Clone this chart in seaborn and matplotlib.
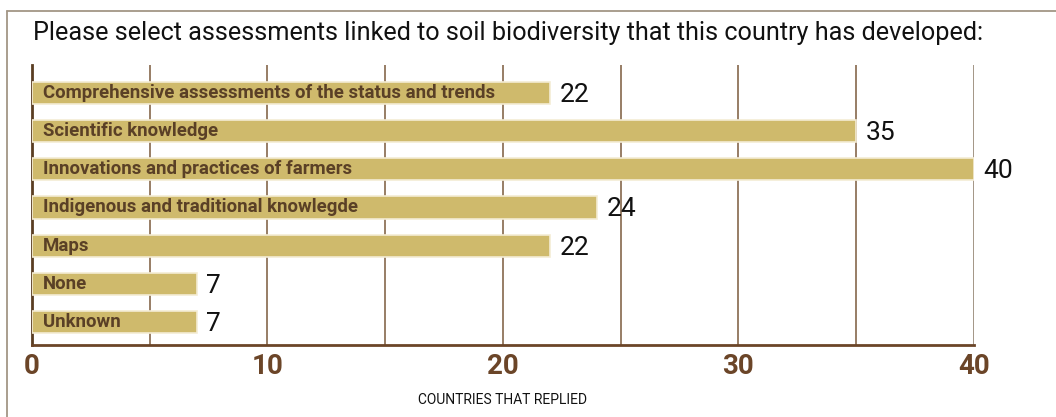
import matplotlib
matplotlib.use("Agg")
import matplotlib.pyplot as plt
import seaborn as sns
import pandas as pd
from matplotlib.lines import Line2D

# data
categories = [
    "Comprehensive assessments of the status and trends",
    "Scientific knowledge",
    "Innovations and practices of farmers",
    "Indigenous and traditional knowlegde",
    "Maps",
    "None",
    "Unknown",
]
countries = [22, 35, 40, 24, 22, 7, 7]
x_ticks = [0, 10, 20, 30, 40]
grid_at = [5, 10, 15, 20, 25, 30, 35]

df = pd.DataFrame({"category": categories, "countries": countries})

sns.set_theme(style="white")
plt.rcParams["font.family"] = ["Roboto", "DejaVu Sans"]

BAR = "#cfba6c"
BROWN = "#6b4528"
GRID = "#7a5a3c"
FRAME = "#a39686"

fig = plt.figure(figsize=(10.56, 4.17), dpi=100)
ax = fig.add_axes([0.0303, 0.1727, 0.8920, 0.6715])
renderer = fig.canvas.get_renderer()


def fit_width(txt, px):
    # shrink/grow font so the text spans about px pixels
    w = txt.get_window_extent(renderer).width
    txt.set_fontsize(txt.get_fontsize() * px / w)
    return txt.get_fontsize()


sns.barplot(data=df, x="countries", y="category", ax=ax, color=BAR,
            saturation=1, width=0.58, edgecolor="#f4ecd4", linewidth=1.2,
            zorder=3)

ax.set_xlim(0, 40)
ax.set_ylim(6.6, -0.73)

# vertical guides
for g in grid_at:
    ax.axvline(g, color=GRID, lw=1.1, zorder=1)
ax.axvline(40, color=FRAME, lw=1.4, zorder=1)

# labels in bars
label_size = None
for i, (cat, v) in enumerate(zip(categories, countries)):
    t = ax.text(0.45, i, cat, va="center", ha="left", fontsize=13,
                fontweight="bold", color="#5a4026", zorder=4)
    if label_size is None:
        label_size = fit_width(t, 450)
    else:
        t.set_fontsize(label_size)
    ax.text(v + 0.4, i + 0.05, str(v), va="center", ha="left", fontsize=19,
            color="#111111", zorder=4)

ax.set_yticks([])
ax.set_ylabel("")
ax.set_xticks(x_ticks)
ax.set_xticklabels([str(t) for t in x_ticks], fontsize=20, fontweight="bold",
                   color=BROWN)
ax.tick_params(axis="x", length=0, pad=6)
ax.set_xlabel("COUNTRIES THAT REPLIED", fontsize=10, color="#111111",
              labelpad=9)

for s in ["top", "right"]:
    ax.spines[s].set_visible(False)
ax.spines["left"].set_color("#5a3d22")
ax.spines["left"].set_linewidth(2)
ax.spines["bottom"].set_color(BROWN)
ax.spines["bottom"].set_linewidth(2)

title = fig.text(0.031, 0.922, "Please select assessments linked to soil "
                 "biodiversity that this country has developed:",
                 fontsize=19, color="#111111", va="center", ha="left")
fit_width(title, 952)

# outer frame (top and left)
fig.add_artist(Line2D([7 / 1056, 1], [1 - 11 / 417, 1 - 11 / 417],
                      color=FRAME, lw=1.3, transform=fig.transFigure))
fig.add_artist(Line2D([7 / 1056, 7 / 1056], [0, 1 - 11 / 417],
                      color=FRAME, lw=1.3, transform=fig.transFigure))

fig.savefig("out.png", dpi=100)
